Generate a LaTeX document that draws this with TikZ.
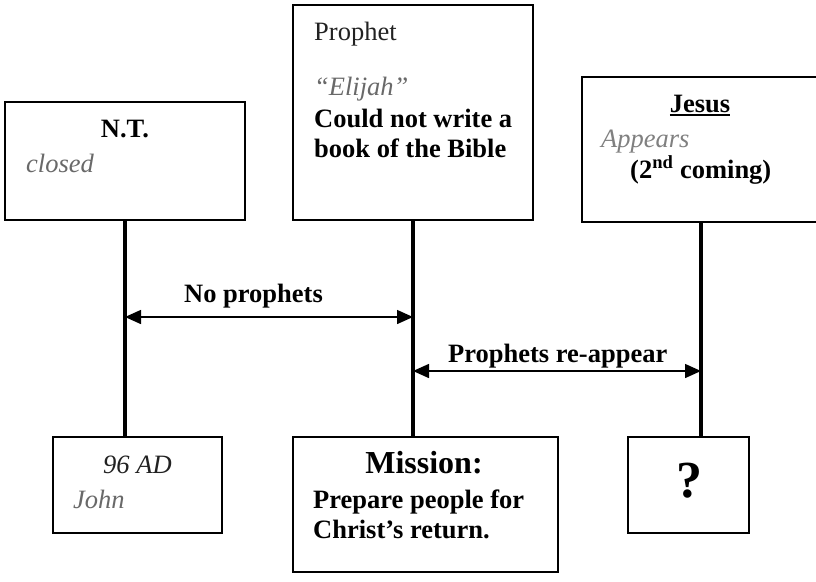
\documentclass[tikz,border=0pt]{standalone}
\usepackage{fontspec}
\setmainfont{Liberation Serif}
\usetikzlibrary{arrows.meta}
\definecolor{txtgray}{RGB}{105,105,105}
\definecolor{txtdark}{RGB}{34,34,34}
\newcommand\thickul[1]{\setbox0\hbox{#1}\rlap{\raisebox{-4pt}{\rule{\wd0}{1.8pt}}}\box0}
\newcommand\fsz{\fontsize{26.5}{30}\selectfont}
\tikzset{
  box/.style={draw=black, line width=1.5pt, fill=white, inner sep=0pt},
  stem/.style={line width=3.2pt},
  span/.style={line width=1.5pt, {Triangle[length=16pt,width=14pt]}-{Triangle[length=16pt,width=14pt]}},
  lbl/.style={anchor=base west, inner sep=0pt, font=\fsz},
  lblc/.style={anchor=base, inner sep=0pt, font=\fsz},
}
\begin{document}
\begin{tikzpicture}[x=1pt,y=-1pt]
\fill[white] (0,0) rectangle (816,581);
\useasboundingbox (0,0) rectangle (816,581);
% boxes
\node[box, minimum width=240pt, minimum height=118pt] (nt) at (125,161) {};
\node[box, minimum width=240pt, minimum height=215pt] (prophet) at (413,112.5) {};
\node[box, minimum width=240pt, minimum height=145pt] (jesus) at (702,149.5) {};
\node[box, minimum width=169pt, minimum height=96pt] (john) at (137.5,485) {};
\node[box, minimum width=265pt, minimum height=135pt] (mission) at (425.5,504.5) {};
\node[box, minimum width=121pt, minimum height=96pt] (qbox) at (688.5,485) {};
% stems
\draw[stem] (nt.south) -- (nt.south |- john.north);
\draw[stem] (prophet.south) -- (prophet.south |- mission.north);
\draw[stem] ([xshift=-1pt]jesus.south) -- ([xshift=-1pt]jesus.south |- qbox.north);
% spans
\coordinate (a1) at (125,317);
\coordinate (a2) at (413,317);
\coordinate (b1) at (413,371);
\coordinate (b2) at (701,371);
\draw[span] (a1) -- (a2);
\draw[span] (b1) -- (b2);
\node[lbl, font=\fsz\bfseries] (t1) at (184,302) {No prophets};
\node[lbl, font=\fsz\bfseries] (t2) at (448,362) {Prophets re-appear};
% NT texts
\node[lblc, font=\fsz\bfseries] (nt1) at (125,137) {N.T.};
\node[lbl, text=txtgray, font=\fsz\itshape] (nt2) at (26,172) {closed};
% Prophet texts
\node[lbl, text=txtdark] (p1) at (314,40) {Prophet};
\node[lbl, text=txtgray, font=\fsz\itshape] (p2) at (314,95) {“Elijah”};
\node[lbl, font=\fsz\bfseries] (p3) at (314,127) {Could not write a};
\node[lbl, font=\fsz\bfseries] (p4) at (314,157) {book of the Bible};
% Jesus texts
\node[lblc, font=\fsz\bfseries] (j1) at (700,112) {\thickul{Jesus}};
\node[lbl, text=txtgray!85, font=\fsz\itshape] (j2) at (601,147) {Appears};
\node[lbl, font=\fsz\bfseries] (j3) at (630,178) {(2\textsuperscript{nd} coming)};
% John texts
\node[lbl, text=txtdark, font=\fsz\itshape] (jo1) at (103,473) {96 AD};
\node[lbl, text=txtgray, font=\fsz\itshape] (jo2) at (73,508) {John};
% Mission texts
\node[lblc, font=\fontsize{32}{36}\selectfont\bfseries] (m1) at (424,473) {Mission:};
\node[lbl, font=\fsz\bfseries] (m2) at (313,508) {Prepare people for};
\node[lbl, font=\fsz\bfseries] (m3) at (313,538) {Christ’s return.};
% question
\node[lblc, font=\fontsize{52}{56}\selectfont\bfseries] (q) at (689,497) {?};
\end{tikzpicture}
\end{document}
